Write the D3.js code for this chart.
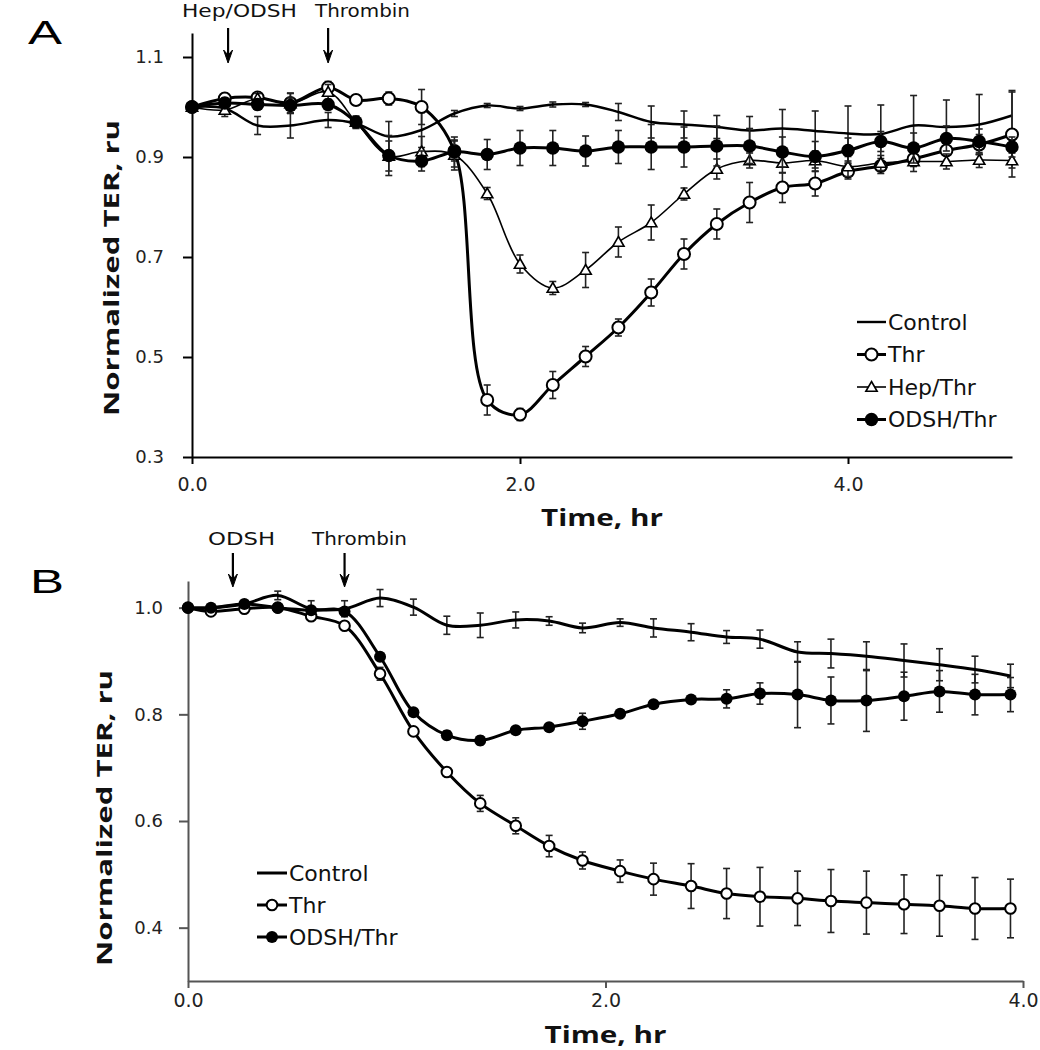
<!DOCTYPE html>
<html><head><meta charset="utf-8">
<script src="https://cdn.jsdelivr.net/npm/d3@7"></script>
<style>body{margin:0;background:#fff}</style>
</head><body><svg id="c" width="1040" height="1050"></svg>
<script>
// ---------- Panel A data ----------
const timesA = [0,0.2,0.4,0.6,0.83,1.0,1.2,1.4,1.6,1.8,2.0,2.2,2.4,2.6,2.8,3.0,3.2,3.4,3.6,3.8,4.0,4.2,4.4,4.6,4.8,5.0];
const ctrlA    = [1.0,0.997,0.963,0.963,0.974,0.967,0.941,0.954,0.987,1.003,0.997,1.005,1.005,0.99,0.97,0.965,0.96,0.953,0.957,0.952,0.947,0.946,0.963,0.96,0.965,0.983];
const ctrlAErr = [0,0.01,0.018,0.025,0.015,0.01,0.03,0.035,0.006,0.004,0.004,0.005,0.004,0.017,0.032,0.027,0.023,0.028,0.038,0.04,0.055,0.058,0.06,0.054,0.06,0.05];
const thrA     = [1.0,1.017,1.019,1.008,1.039,1.014,1.017,1.0,0.912,0.414,0.385,0.444,0.501,0.559,0.629,0.706,0.766,0.809,0.839,0.847,0.871,0.882,0.896,0.913,0.925,0.945];
const thrAErr  = [0,0.01,0.01,0.02,0.012,0.01,0.013,0.035,0.02,0.03,0.012,0.027,0.02,0.017,0.027,0.03,0.03,0.04,0.03,0.025,0.015,0.015,0.015,0.02,0.02,0.085];
const hepA     = [1.0,0.994,1.017,1.007,1.03,0.97,0.902,0.911,0.904,0.827,0.686,0.638,0.674,0.73,0.769,0.826,0.876,0.893,0.888,0.893,0.881,0.888,0.891,0.891,0.894,0.893];
const hepAErr  = [0,0.013,0.01,0.02,0.015,0.01,0.03,0.03,0.03,0.012,0.018,0.013,0.035,0.03,0.035,0.012,0.02,0.015,0.02,0.015,0.02,0.015,0.02,0.015,0.015,0.015];
const odshA    = [1.0,1.008,1.005,1.003,1.005,0.97,0.903,0.892,0.91,0.905,0.918,0.918,0.912,0.92,0.92,0.92,0.922,0.922,0.91,0.901,0.913,0.931,0.918,0.937,0.931,0.92];
const odshAErr = [0,0.01,0.01,0.015,0.01,0.012,0.04,0.02,0.03,0.03,0.035,0.035,0.03,0.033,0.045,0.04,0.04,0.035,0.03,0.03,0.025,0.02,0.03,0.025,0.025,0.02];
const yTicksA = [0.3,0.5,0.7,0.9,1.1];
const xTicksA = [0,2,4];
const legendA = ["Control","Thr","Hep/Thr","ODSH/Thr"];
const arrowLabelsA = ["Hep/ODSH","Thrombin"];
const arrowTimesA = [0.22,0.83];

// ---------- Panel B data ----------
const timesB = [0,0.11,0.27,0.43,0.59,0.75,0.92,1.08,1.24,1.40,1.57,1.73,1.89,2.07,2.23,2.41,2.58,2.74,2.92,3.08,3.25,3.43,3.60,3.77,3.94];
const ctrlB    = [1.0,1.0,1.007,1.023,0.998,0.998,1.018,1.001,0.967,0.967,0.977,0.975,0.962,0.972,0.962,0.954,0.945,0.941,0.917,0.914,0.909,0.901,0.893,0.884,0.872];
const ctrlBErr = [0,0.003,0.005,0.008,0.015,0.015,0.016,0.015,0.017,0.023,0.015,0.008,0.009,0.007,0.017,0.016,0.012,0.017,0.019,0.027,0.027,0.031,0.03,0.025,0.022];
const thrB     = [1.0,0.993,0.998,1.0,0.984,0.966,0.876,0.768,0.692,0.633,0.591,0.553,0.526,0.506,0.491,0.478,0.464,0.458,0.455,0.45,0.447,0.444,0.441,0.436,0.436];
const thrBErr  = [0,0.003,0.004,0.004,0.005,0.005,0.012,0.005,0.005,0.015,0.015,0.02,0.016,0.021,0.03,0.042,0.047,0.055,0.051,0.059,0.059,0.055,0.057,0.058,0.055];
const odshB    = [1.0,1.0,1.007,1.0,0.995,0.993,0.908,0.804,0.761,0.751,0.77,0.776,0.787,0.801,0.819,0.828,0.829,0.839,0.837,0.826,0.826,0.834,0.843,0.837,0.837];
const odshBErr = [0,0.003,0.003,0.003,0.004,0.004,0.006,0.005,0.008,0.008,0.006,0.006,0.015,0.005,0.004,0.005,0.017,0.02,0.062,0.044,0.058,0.045,0.039,0.038,0.032];
const yTicksB = [0.4,0.6,0.8,1.0];
const xTicksB = [0,2,4];
const legendB = ["Control","Thr","ODSH/Thr"];
const arrowLabelsB = ["ODSH","Thrombin"];
const arrowTimesB = [0.215,0.75];

const axisTitleX = "Time, hr";
const axisTitleY = "Normalized TER, ru";

// ---------- drawing ----------
const svg = d3.select("#c");
const fmt = d3.format(".1f");
const TICKFONT = "DejaVu Sans, Verdana, sans-serif";
const TITLEFONT = "'Open Sans', Lato, sans-serif";

function marker(g, type, cx, cy, big) {
  const r = big ? 6 : 5.3;
  if (type === "open") {
    g.append("circle").attr("cx", cx).attr("cy", cy).attr("r", r)
      .attr("fill", "#fff").attr("stroke", "#000").attr("stroke-width", 2);
  } else if (type === "filled") {
    g.append("circle").attr("cx", cx).attr("cy", cy).attr("r", r + 0.7)
      .attr("fill", "#000");
  } else if (type === "tri") {
    g.append("path").attr("d", d3.symbol(d3.symbolTriangle, 55)())
      .attr("transform", `translate(${cx},${cy + 1})`)
      .attr("fill", "#fff").attr("stroke", "#000").attr("stroke-width", 1.6);
  }
}

function drawPanel(p) {
  const g = svg.append("g");
  const x = p.x, y = p.y;
  const x0 = x.range()[0], y0 = y.range()[0];

  // axes
  const ya = g.append("g").attr("transform", `translate(${x0},0)`)
    .call(d3.axisLeft(y).tickValues(p.yTicks).tickFormat(fmt).tickSize(9).tickSizeOuter(0).tickPadding(p.yPad));
  const xa = g.append("g").attr("transform", `translate(0,${y0})`)
    .call(d3.axisBottom(x).tickValues(p.xTicks).tickFormat(fmt).tickSize(7).tickSizeOuter(0).tickPadding(p.xPad));
  [ya, xa].forEach(a => {
    a.select(".domain").attr("stroke", p.axisColor).attr("stroke-width", 2);
    a.selectAll(".tick line").attr("stroke", p.axisColor).attr("stroke-width", 2);
    a.selectAll(".tick text").attr("fill", "#222").attr("font-family", TICKFONT);
  });
  ya.selectAll(".tick text").attr("font-size", 18);
  xa.selectAll(".tick text").attr("font-size", 19);

  // axis titles
  g.append("text").attr("x", (x.range()[0] + x.range()[1]) / 2).attr("y", p.xTitleY)
    .attr("text-anchor", "middle").attr("font-family", TITLEFONT).attr("font-weight", 700)
    .attr("font-size", 23).attr("textLength", 122).attr("lengthAdjust", "spacingAndGlyphs")
    .attr("fill", "#111").text(axisTitleX);
  g.append("text").attr("transform", `translate(${p.yTitleX},${p.yTitleC}) rotate(-90)`)
    .attr("text-anchor", "middle").attr("font-family", TITLEFONT).attr("font-weight", 700)
    .attr("font-size", 21).attr("textLength", p.yTitleLen).attr("lengthAdjust", "spacingAndGlyphs")
    .attr("fill", "#111").text(axisTitleY);

  // panel letter
  g.append("text").attr("x", p.letterX).attr("y", p.letterY)
    .attr("font-family", "Liberation Sans, Arial, sans-serif").attr("font-size", 34)
    .attr("textLength", 34).attr("lengthAdjust", "spacingAndGlyphs").text(p.letter);

  // arrows + labels
  p.arrowTimes.forEach((t, i) => {
    const ax = x(t);
    g.append("line").attr("x1", ax).attr("x2", ax).attr("y1", p.arrowTop).attr("y2", p.arrowTip - 4)
      .attr("stroke", "#000").attr("stroke-width", 2.2);
    g.append("path").attr("d", `M${ax - 4.5},${p.arrowTip - 13} L${ax},${p.arrowTip} L${ax + 4.5},${p.arrowTip - 13} L${ax},${p.arrowTip - 8} Z`)
      .attr("fill", "#000").attr("stroke", "#000").attr("stroke-width", 1);
    g.append("text").attr("x", p.arrowLabelX[i]).attr("y", p.arrowLabelY)
      .attr("font-family", TICKFONT).attr("font-size", 17)
      .attr("textLength", p.arrowLabelLen[i]).attr("lengthAdjust", "spacingAndGlyphs")
      .attr("fill", "#111").text(p.arrowLabels[i]);
  });

  // series
  p.series.forEach(s => {
    const sg = g.append("g");
    // error bars
    s.values.forEach((v, i) => {
      const e = s.errors[i];
      if (!e) return;
      const cx = x(p.times[i]);
      sg.append("line").attr("x1", cx).attr("x2", cx).attr("y1", y(v - e)).attr("y2", y(v + e))
        .attr("stroke", "#222").attr("stroke-width", 1.6);
      [v - e, v + e].forEach(w => sg.append("line").attr("x1", cx - 3.5).attr("x2", cx + 3.5)
        .attr("y1", y(w)).attr("y2", y(w)).attr("stroke", "#222").attr("stroke-width", 1.6));
    });
    const line = d3.line().x((d, i) => x(p.times[i])).y(d => y(d)).curve(d3.curveCatmullRom.alpha(0.5));
    sg.append("path").attr("d", line(s.values)).attr("fill", "none")
      .attr("stroke", "#000").attr("stroke-width", s.width);
    if (s.marker) s.values.forEach((v, i) => marker(sg, s.marker, x(p.times[i]), y(v), p.bigMarkers));
  });

  // legend
  p.series.forEach((s, i) => {
    const ly = p.legY + i * p.legDy;
    g.append("line").attr("x1", p.legX0).attr("x2", p.legX1).attr("y1", ly).attr("y2", ly)
      .attr("stroke", "#000").attr("stroke-width", s.width);
    if (s.marker) marker(g, s.marker, (p.legX0 + p.legX1) / 2, ly, p.bigMarkers);
    g.append("text").attr("x", p.legX1 + 2).attr("y", ly + 7.5)
      .attr("font-family", TICKFONT).attr("font-size", 22).attr("fill", "#111").text(p.legend[i]);
  });
}

drawPanel({
  x: d3.scaleLinear().domain([0, 5]).range([192, 1012]),
  y: d3.scaleLinear().domain([0.3, 1.148]).range([457, 33]),
  times: timesA, yTicks: yTicksA, xTicks: xTicksA, yPad: 19, xPad: 14,
  axisColor: "#000", xTitleY: 526, yTitleX: 119, yTitleC: 268, yTitleLen: 296,
  letter: "A", letterX: 28, letterY: 44,
  arrowTimes: arrowTimesA, arrowLabels: arrowLabelsA, arrowLabelX: [182, 315], arrowLabelLen: [115, 95],
  arrowLabelY: 17, arrowTop: 28, arrowTip: 63,
  bigMarkers: true,
  series: [
    {values: ctrlA, errors: ctrlAErr, marker: null, width: 2.4},
    {values: thrA, errors: thrAErr, marker: "open", width: 3},
    {values: hepA, errors: hepAErr, marker: "tri", width: 1.6},
    {values: odshA, errors: odshAErr, marker: "filled", width: 3}
  ],
  legend: legendA, legX0: 857, legX1: 886, legY: 322, legDy: 32.5
});

drawPanel({
  x: d3.scaleLinear().domain([0, 4]).range([188, 1023]),
  y: d3.scaleLinear().domain([0.3, 1.05]).range([981, 581]),
  times: timesB, yTicks: yTicksB, xTicks: xTicksB, yPad: 16, xPad: 6,
  axisColor: "#555", xTitleY: 1043, yTitleX: 112, yTitleC: 818, yTitleLen: 296,
  letter: "B", letterX: 30, letterY: 593,
  arrowTimes: arrowTimesB, arrowLabels: arrowLabelsB, arrowLabelX: [208, 312], arrowLabelLen: [67, 95],
  arrowLabelY: 545, arrowTop: 553, arrowTip: 587,
  bigMarkers: false,
  series: [
    {values: ctrlB, errors: ctrlBErr, marker: null, width: 3},
    {values: thrB, errors: thrBErr, marker: "open", width: 3},
    {values: odshB, errors: odshBErr, marker: "filled", width: 3}
  ],
  legend: legendB, legX0: 257, legX1: 287, legY: 873, legDy: 32
});
</script>
</body></html>
